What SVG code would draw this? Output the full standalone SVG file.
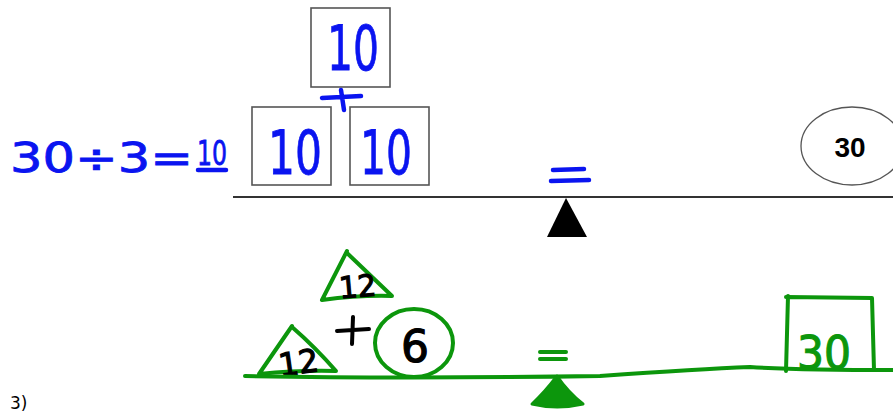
<svg xmlns="http://www.w3.org/2000/svg" width="893" height="414" viewBox="0 0 893 414">
<style>
.box{fill:none;stroke:#555;stroke-width:1.6}
.hb{font-family:"DejaVu Sans",sans-serif;fill:#0a14f0;stroke:#0a14f0;stroke-width:0.8}
.hk{font-family:"DejaVu Sans",sans-serif;fill:#000;stroke:#000;stroke-width:1.2}
.hg{font-family:"DejaVu Sans",sans-serif;fill:#0c960c;stroke:#0c960c;stroke-width:1.2}
.gs{fill:none;stroke:#0c960c;stroke-width:4;stroke-linecap:round;stroke-linejoin:round}
.bs{fill:none;stroke:#0a14f0;stroke-width:4.5;stroke-linecap:round}
.ks{fill:none;stroke:#000;stroke-width:4;stroke-linecap:round}
</style>
<rect width="893" height="414" fill="#fff"/>
<g id="equation">
<text class="hb" x="10" y="172" font-size="40" textLength="183" lengthAdjust="spacingAndGlyphs">30÷3=</text>
<text class="hb" x="197" y="165" font-size="34" textLength="30" lengthAdjust="spacingAndGlyphs">10</text>
<path class="bs" d="M198 170 L226 170" stroke-width="3"/>
</g>
<g id="box-top">
<rect class="box" x="311" y="8" width="79" height="79"/>
<text class="hb" x="327" y="70" font-size="62" textLength="52" lengthAdjust="spacingAndGlyphs">10</text>
</g>
<g id="plus-top">
<path class="bs" d="M322 98 L361 96 M341 90 L344 110" stroke-width="4"/>
</g>
<g id="box-left">
<rect class="box" x="252" y="107" width="79" height="78"/>
<text class="hb" x="268" y="174" font-size="60" textLength="54" lengthAdjust="spacingAndGlyphs">10</text>
</g>
<g id="box-right">
<rect class="box" x="350" y="107" width="79" height="78"/>
<text class="hb" x="360" y="174" font-size="60" textLength="52" lengthAdjust="spacingAndGlyphs">10</text>
</g>
<g id="ellipse-30">
<ellipse cx="852" cy="146" rx="51" ry="39" fill="none" stroke="#555" stroke-width="1.3"/>
<text x="850" y="157" font-family="Liberation Sans, Arial, sans-serif" font-weight="bold" font-size="28" text-anchor="middle" fill="#000">30</text>
</g>
<g id="balance-top">
<path d="M233 197 L893 197" stroke="#333" stroke-width="2.2"/>
<polygon points="566,198 547,237 587,237" fill="#000"/>
<path class="bs" d="M553 170 L584 169 M551 181 L589 180"/>
</g>
<g id="tri-top">
<path class="gs" d="M347 251 L322 300 Q360 295 392 296 Q370 275 347 253"/>
<text class="hk" x="339" y="297" font-size="30" textLength="37" lengthAdjust="spacingAndGlyphs" transform="rotate(-5 357 285)">12</text>
</g>
<g id="tri-bottom">
<path class="gs" d="M292 326 L259 374 Q300 370 336 371 Q315 347 292 327"/>
<text class="hk" x="278" y="374" font-size="32" textLength="40" lengthAdjust="spacingAndGlyphs" transform="rotate(-8 298 360)">12</text>
</g>
<g id="plus-bottom">
<path class="ks" d="M337 331 L369 329 M353 317 L352 344"/>
</g>
<g id="circle-6">
<ellipse cx="414" cy="343" rx="39" ry="34" class="gs"/>
<text class="hk" x="415" y="362" font-size="44" text-anchor="middle" textLength="28" lengthAdjust="spacingAndGlyphs">6</text>
</g>
<g id="box-30">
<path class="gs" d="M786 297 L872 298 L874 370 M788 296 L786 371"/>
<text class="hg" x="797" y="369" font-size="46" textLength="54" lengthAdjust="spacingAndGlyphs">30</text>
</g>
<g id="balance-bottom">
<path class="gs" d="M245 376 Q400 379 600 376 Q700 369 750 367 Q800 370 893 370"/>
<path d="M557 376 Q545 392 532 404 Q557 410 583 404 Q568 392 557 376 Z" fill="#0c960c" stroke="#0c960c" stroke-width="3" stroke-linejoin="round"/>
<path class="gs" d="M540 352 L566 352 M540 359 L566 359"/>
</g>
<g id="label">
<text x="10" y="409" font-family="DejaVu Sans, sans-serif" font-size="17" fill="#000">3)</text>
</g>
</svg>
